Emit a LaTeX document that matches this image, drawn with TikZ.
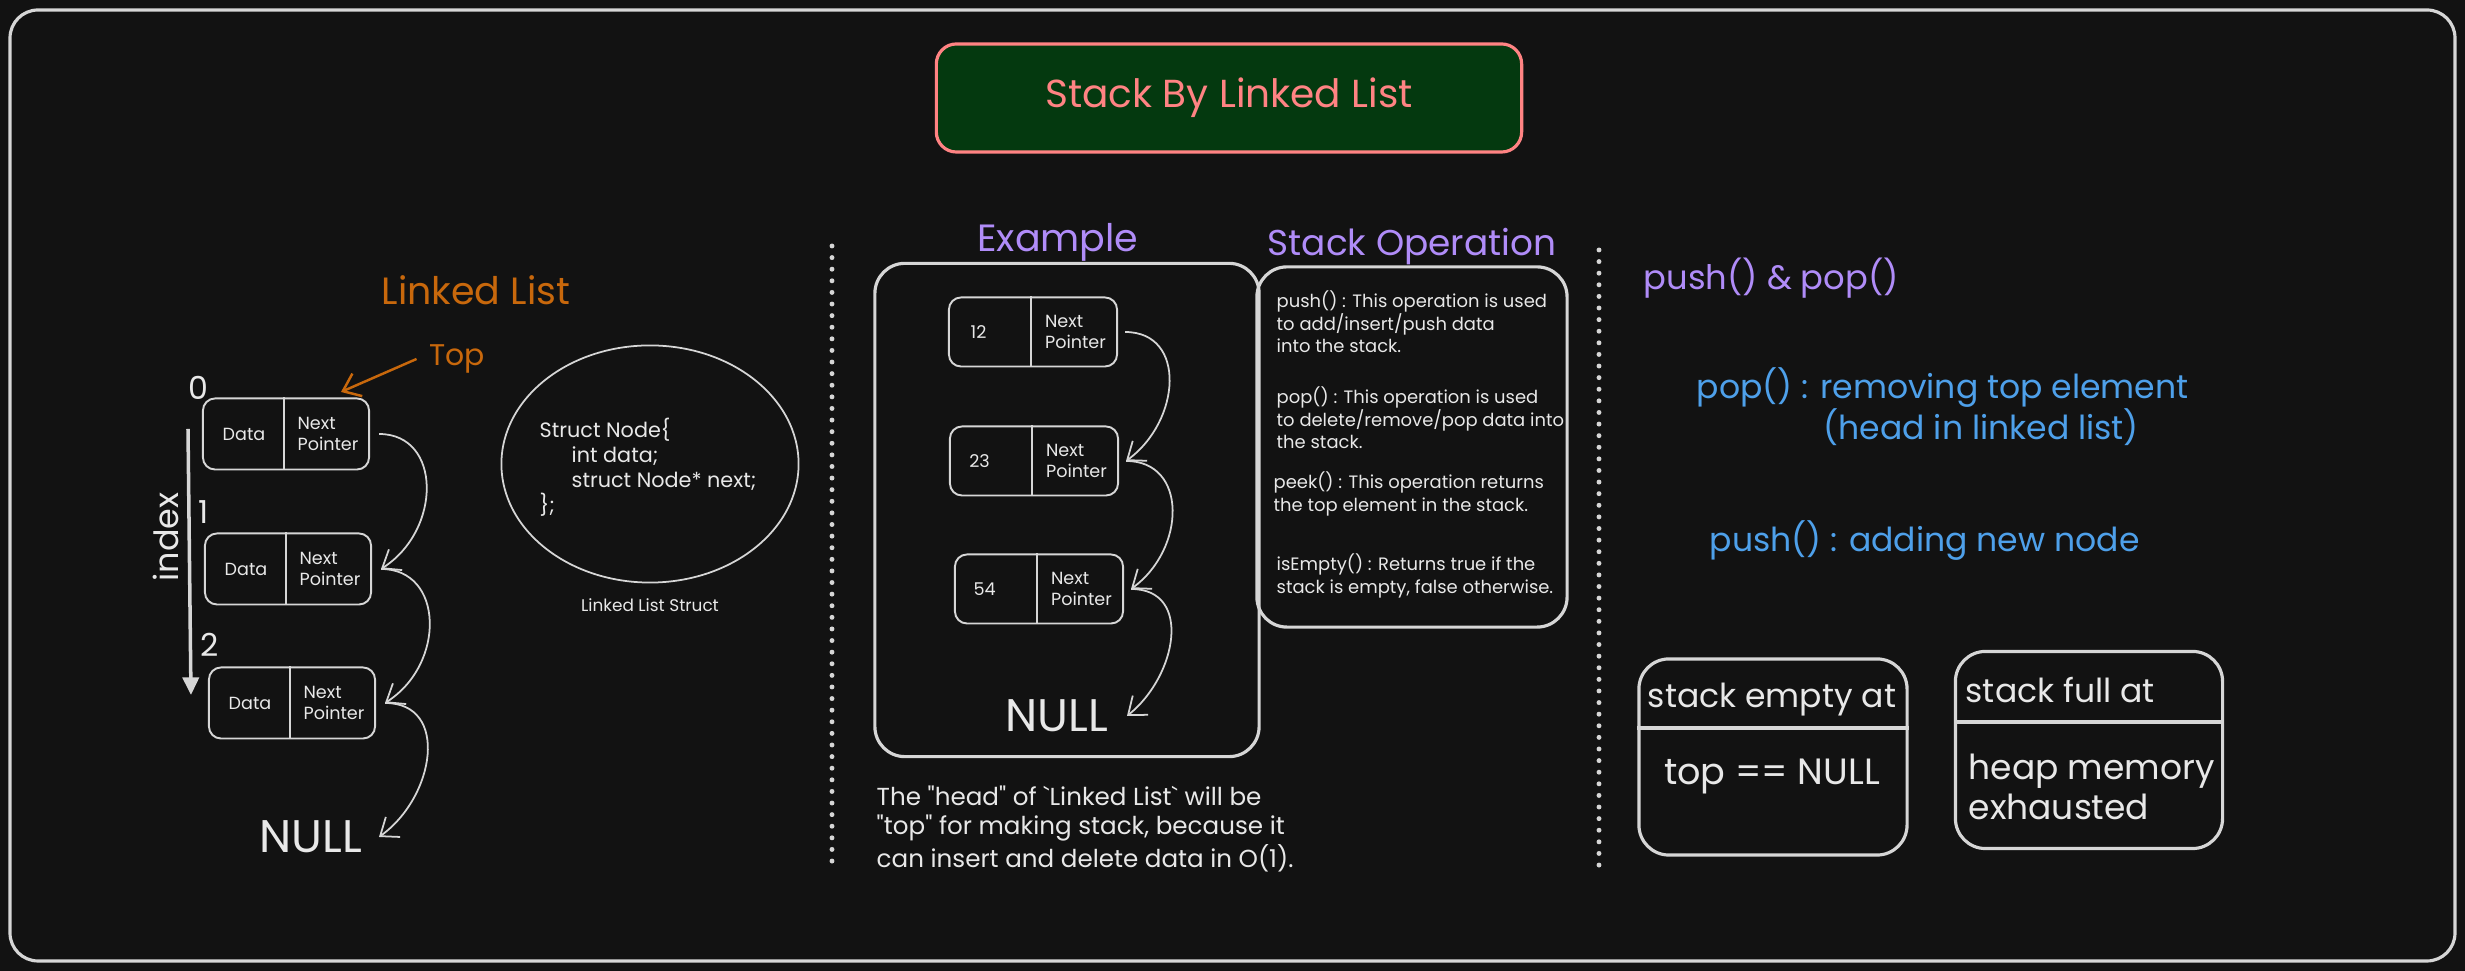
\documentclass[tikz,border=0pt]{standalone}
\usepackage{fontspec}
\setmainfont{Poppins}
\usetikzlibrary{arrows.meta,positioning,calc,shapes.geometric}

\definecolor{bgc}{HTML}{121212}
\definecolor{linec}{HTML}{D6D6D6}
\definecolor{txtc}{HTML}{E8E8E8}
\definecolor{titlefill}{HTML}{04390F}
\definecolor{titlered}{HTML}{FF8383}
\definecolor{orangec}{HTML}{C8680C}
\definecolor{purplec}{HTML}{B08CF8}
\definecolor{bluec}{HTML}{4EA0EA}

\tikzset{
  txt/.style={text=txtc, inner sep=0pt},
  cell/.style={draw=linec, line width=0.55pt, rounded corners=0.12cm, minimum width=1.66cm, minimum height=0.71cm, inner sep=0pt},
  celltxt/.style={txt, align=left, font=\fontsize{5pt}{6pt}\selectfont},
  panel/.style={draw=linec, line width=0.9pt, rounded corners=0.3cm, inner sep=0pt},
  ptr/.style={linec, line width=0.5pt, -{Straight Barb[length=4.5pt,width=7pt]}},
  dotsep/.style={linec, line width=1.4pt, line cap=round, dash pattern=on 0pt off 3.3pt},
  heading/.style={inner sep=0pt, font=\fontsize{10.8pt}{12pt}\selectfont},
  nulltxt/.style={txt, font=\fontsize{13pt}{15pt}\selectfont},
  idxnum/.style={txt, font=\fontsize{9pt}{10pt}\selectfont},
  codetxt/.style={txt, align=left, font=\fontsize{5.9pt}{7.1pt}\selectfont},
  optxt/.style={txt, align=left, font=\fontsize{5.1pt}{6.4pt}\selectfont},
  note/.style={inner sep=0pt, text=bluec, align=left, font=\fontsize{9.4pt}{11.7pt}\selectfont},
  boxtxt/.style={txt, align=left, font=\fontsize{9.4pt}{11.4pt}\selectfont},
}

\begin{document}
\begin{tikzpicture}[x=0.01cm,y=-0.01cm]
  % Canvas and frame
  \useasboundingbox (0,0) rectangle (2465,971);
  \fill[bgc] (0,0) rectangle (2465,971);
  \draw[linec, line width=0.9pt, rounded corners=0.28cm] (10,10) rectangle (2455,961);

  % Title
  \node[draw=titlered, fill=titlefill, line width=0.9pt, rounded corners=0.2cm, minimum width=5.85cm, minimum height=1.08cm, text=titlered, font=\fontsize{11.1pt}{13pt}\selectfont] (title) at (1229,98) {Stack By Linked List};

  % Section separators
  \draw[dotsep] (832,246) -- (832,868);
  \draw[dotsep] (1599,250) -- (1599,870);

  \begin{scope} % Linked list on the left
    \node[heading, text=orangec] (lltitle) at (476,290) {Linked List};
    \node[inner sep=0pt, text=orangec, font=\fontsize{8.5pt}{10pt}\selectfont] (toplbl) at (457,359) {Top};
    \coordinate (toptip) at (341,392);
    \draw[orangec, line width=0.7pt, -{Straight Barb[length=4.5pt,width=7pt]}] ([xshift=-0.12cm]toplbl.west) -- (toptip);
    \foreach \n/\x/\y in {0/286/434, 1/288/569, 2/292/703} {
      \node[cell] (l\n) at (\x,\y) {};
      \draw[linec, line width=0.55pt] ($(l\n.north west)!0.49!(l\n.north east)$) -- ($(l\n.south west)!0.49!(l\n.south east)$);
      \node[celltxt] at ($(l\n.west)!0.25!(l\n.east)$) {Data};
      \node[celltxt] at ($(l\n.west)!0.75!(l\n.east)$) {Next\\Pointer};
    }
    \node[nulltxt] (nulla) at (311,837) {NULL};
    \foreach \a/\b in {l0/l1, l1/l2}
      \draw[ptr] ([xshift=0.09cm]\a.east) .. controls +(63,0) and +(61,-39) .. ([xshift=0.09cm]\b.east);
    \draw[ptr] ([xshift=0.09cm]l2.east) .. controls +(65,0) and +(56,-40) .. ([xshift=0.16cm]nulla.east);
    % index arrow
    \node[idxnum] (i0) at (198,388) {0};
    \node[idxnum] (i1) at (204,512) {1};
    \node[idxnum] (i2) at (210,645) {2};
    \coordinate (idxtop) at (188,429);
    \coordinate (idxend) at (191,695);
    \draw[linec, line width=1pt, -{Triangle[length=5pt,width=4.6pt]}] (idxtop) -- (idxend);
    \node[txt, rotate=90, font=\fontsize{9.5pt}{11pt}\selectfont] (idxlbl) at (166,537) {index};
  \end{scope}

  \begin{scope} % Node struct
    \node[ellipse, draw=linec, line width=0.5pt, minimum width=2.97cm, minimum height=2.37cm, inner sep=0pt] (structshape) at (650,464) {};
    \node[codetxt, anchor=west] (structcode) at (539,467) {Struct Node\{\\\hspace*{0.32cm}int data;\\\hspace*{0.32cm}struct Node* next;\\\};};
    \node[txt, below=0.15cm of structshape, font=\fontsize{4.8pt}{6pt}\selectfont] (structcap) {Linked List Struct};
  \end{scope}

  \begin{scope} % Example
    \node[panel, minimum width=3.84cm, minimum height=4.93cm] (exbox) at (1067,510) {};
    \node[heading, text=purplec, above=0pt of exbox, xshift=-0.09cm] (extitle) {Example};
    \foreach \n/\x/\y/\d in {0/1033/332/12, 1/1034/461/23, 2/1039/589/54} {
      \node[cell, minimum width=1.68cm, minimum height=0.69cm] (e\n) at (\x,\y) {};
      \draw[linec, line width=0.55pt] ($(e\n.north west)!0.49!(e\n.north east)$) -- ($(e\n.south west)!0.49!(e\n.south east)$);
      \node[celltxt] at ($(e\n.west)!0.18!(e\n.east)$) {\d};
      \node[celltxt] at ($(e\n.west)!0.75!(e\n.east)$) {Next\\Pointer};
    }
    \node[nulltxt] (nullb) at (1057,716) {NULL};
    \foreach \a/\b in {e0/e1, e1/e2}
      \draw[ptr] ([xshift=0.07cm]\a.east) .. controls +(62,0) and +(55,-40) .. ([xshift=0.07cm]\b.east);
    \draw[ptr] ([xshift=0.07cm]e2.east) .. controls +(62,0) and +(50,-40) .. ([xshift=0.18cm]nullb.east);
    \node[txt, anchor=west, align=left, font=\fontsize{7pt}{8.25pt}\selectfont] (headnote) at (876,829) {The \textquotedbl head\textquotedbl{} of \textasciigrave Linked List\textasciigrave{} will be\\\textquotedbl top\textquotedbl{} for making stack, because it\\can insert and delete data in O(1).};
  \end{scope}

  \begin{scope} % Stack operations
    \node[panel, minimum width=3.10cm, minimum height=3.60cm] (opbox) at (1412,447) {};
    \node[heading, text=purplec, above=0pt of opbox, font=\fontsize{10.2pt}{12pt}\selectfont] (optitle) {Stack Operation};
    \node[optxt, anchor=west] (oppush) at (1276,322) {push() : This operation is used\\to add/insert/push data\\into the stack.};
    \node[optxt, anchor=west] (oppop) at (1276,418) {pop() : This operation is used\\to delete/remove/pop data into\\the stack.};
    \node[optxt, anchor=west] (oppeek) at (1273,494) {peek() : This operation returns\\the top element in the stack.};
    \node[optxt, anchor=west] (opempty) at (1276,576) {isEmpty() : Returns true if the\\stack is empty, false otherwise.};
  \end{scope}

  \begin{scope} % push and pop
    \node[inner sep=0pt, text=purplec, anchor=west, font=\fontsize{9.6pt}{11pt}\selectfont] (pushpop) at (1643,278) {push() \& pop()};
    \node[note, anchor=west] (popnote) at (1696,407) {pop() : removing top element\\\hspace*{1.27cm}(head in linked list)};
    \node[note, anchor=west] (pushnote) at (1709,541) {push() : adding new node};
    % empty / full boxes
    \node[panel, minimum width=2.68cm, minimum height=1.96cm] (emptybox) at (1773,757) {};
    \draw[linec, line width=0.9pt] (emptybox.west |- 0,728) -- (emptybox.east |- 0,728);
    \node[boxtxt] (emptyhead) at (1772,700) {stack empty at};
    \node[boxtxt, font=\fontsize{10.4pt}{12pt}\selectfont] (emptybody) at (1772,777) {top == NULL};
    \node[panel, minimum width=2.67cm, minimum height=1.97cm] (fullbox) at (2089,750) {};
    \draw[linec, line width=0.9pt] (fullbox.west |- 0,722) -- (fullbox.east |- 0,722);
    \node[boxtxt, anchor=west] (fullhead) at (1965,690) {stack full at};
    \node[boxtxt, anchor=west, font=\fontsize{9.8pt}{11.4pt}\selectfont] (fullbody) at (1968,787) {heap memory\\exhausted};
  \end{scope}
\end{tikzpicture}
\end{document}
